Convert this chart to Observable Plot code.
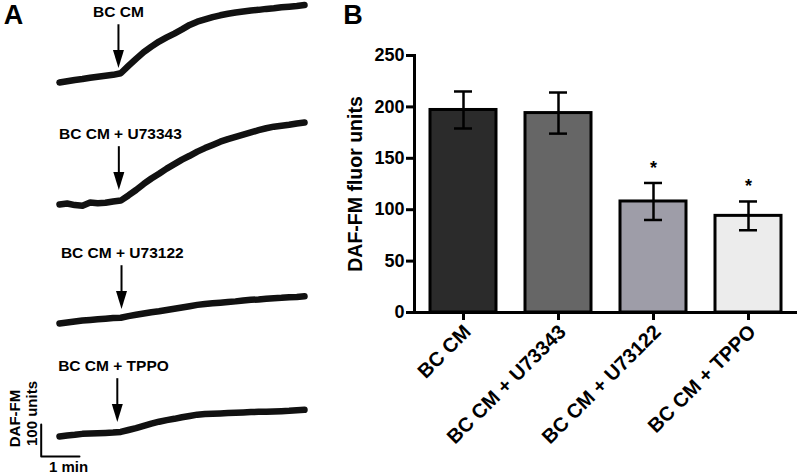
<!DOCTYPE html>
<html><head><meta charset="utf-8">
<script src="https://cdn.jsdelivr.net/npm/d3@7"></script>
<script src="https://cdn.jsdelivr.net/npm/@observablehq/plot@0.6"></script>
<style>
body{margin:0;background:#fff;}
#fig{position:relative;width:799px;height:474px;overflow:hidden;background:#fff;font-family:"Liberation Sans",Arial,Helvetica,sans-serif;}
#a{position:absolute;left:0;top:0;}
#b{position:absolute;left:330px;top:0;}
</style></head><body>
<div id="fig"><div id="a"></div><div id="b"></div></div>
<script>
// ---------- Panel A data (time in min, DAF-FM units above each trace's baseline) ----------
const times = [0,0.2,0.4,0.6,0.8,1.0,1.2,1.4,1.6,1.8,2.0,2.2,2.4,2.6,2.8,3.0,3.2,3.4,3.6,3.8,4.0,4.2,4.4,4.6,4.8,5.0,5.2,5.4,5.6,5.8,6.0,6.2,6.4];
const traceNames = ["BC CM", "BC CM + U73343", "BC CM + U73122", "BC CM + TPPO"];
const traceBCCM   = [0,4,8,11,15,18,21,24,29,52,74,95,112,128,141,153,166,180,190,197,204,210,215,219,222,225,227,230,232,235,237,239,242];
const traceU73343 = [0,3,-2,-4,6,4,5,9,12,28,45,64,81,96,112,126,140,152,165,176,186,196,204,211,218,225,232,238,243,246,249,253,256];
const traceU73122 = [0,3,6,9,11,13,15,17,18,23,27,31,35,38,42,46,50,54,58,61,63,65,67,69,72,74,75,77,79,80,82,83,85];
const traceTPPO   = [0,3,5,8,9,10,11,12,14,20,26,33,40,46,51,55,60,64,68,70,71,72,73,74,75,76,77,77,78,79,80,82,83];
const additionTimes = [1.54, 1.55, 1.62, 1.51];
const scaleBarMinutes = 1;
const scaleBarUnits = 100;

// ---------- Panel B data ----------
const barCategories = ["BC CM", "BC CM + U73343", "BC CM + U73122", "BC CM + TPPO"];
const barMeans = [197, 194, 108, 94];
const barSEM = [18, 20, 18, 14];
const barColors = ["#2b2b2b", "#666666", "#9e9da8", "#ececec"];
const barSignificance = ["", "", "*", "*"];
const yTicks = [0, 50, 100, 150, 200, 250];

// ---------- layout ----------
const FONT = '"Liberation Sans", Arial, Helvetica, sans-serif';
const rowBase = [1225, 844, 472, 119];      // vertical stacking of traces (units)
const labelCenters = [1.54, 1.59, 1.64, 1.41];
const traces = [traceBCCM, traceU73343, traceU73122, traceTPPO];

const traceRows = [];
traces.forEach((vals, i) => vals.forEach((v, j) => traceRows.push({trace: i, t: times[j], y: v + rowBase[i]})));
const arrows = traceNames.map((name, i) => ({
  name, t: additionTimes[i], lt: labelCenters[i],
  tip: rowBase[i] + 45, top: rowBase[i] + 182, ly: rowBase[i] + 219.5
}));
const sbX = -0.478, sbY = 56.25;
const scaleBar = [
  {t: sbX, y: sbY + scaleBarUnits},
  {t: sbX, y: sbY},
  {t: sbX + scaleBarMinutes, y: sbY}
];
const arrowHead = {draw(ctx) { ctx.moveTo(0, 0); ctx.lineTo(-5.5, -18); ctx.lineTo(5.5, -18); ctx.closePath(); }};

const plotA = Plot.plot({
  width: 330, height: 474,
  marginTop: 0, marginBottom: 0, marginLeft: 59, marginRight: 26,
  x: {domain: [0, 6.4], axis: null},
  y: {domain: [0, 1481.25], axis: null},
  style: {fontFamily: FONT, fontWeight: "bold", background: "white", overflow: "visible", color: "black"},
  marks: [
    Plot.line(traceRows, {x: "t", y: "y", z: "trace", stroke: "#111", strokeWidth: 6.5, strokeLinecap: "round", strokeLinejoin: "round"}),
    Plot.link(arrows, {x1: "t", x2: "t", y1: "top", y2: d => d.tip + 20, stroke: "black", strokeWidth: 2}),
    Plot.dot(arrows, {x: "t", y: "tip", symbol: arrowHead, fill: "black", stroke: "none"}),
    Plot.text(arrows, {x: "lt", y: "ly", text: "name", fontSize: 15.5, fontWeight: "bold", fill: "black"}),
    Plot.line(scaleBar, {x: "t", y: "y", stroke: "black", strokeWidth: 2}),
    Plot.text([`${scaleBarMinutes} min`], {x: 0.235, y: 21.9, fontSize: 15, fontWeight: "bold"}),
    Plot.text(["DAF-FM"], {x: -1.149, y: 175, rotate: -90, fontSize: 15, fontWeight: "bold"}),
    Plot.text([`${scaleBarUnits} units`], {x: -0.705, y: 190.6, rotate: -90, fontSize: 15, fontWeight: "bold"}),
    Plot.text(["A"], {x: -1.2, y: 1434, fontSize: 27, fontWeight: "bold"})
  ]
});
document.getElementById("a").append(plotA);

const bars = barCategories.map((cat, i) => ({cat, mean: barMeans[i], sem: barSEM[i], color: barColors[i], sig: barSignificance[i]}));

const plotB = Plot.plot({
  width: 469, height: 474,
  marginLeft: 84, marginRight: 2, marginTop: 55, marginBottom: 162,
  x: {domain: barCategories, paddingInner: 0.31, paddingOuter: 0.163},
  y: {domain: [0, 250]},
  color: {type: "identity"},
  style: {fontFamily: FONT, fontWeight: "bold", background: "white", overflow: "visible", color: "black"},
  marks: [
    Plot.barY(bars, {x: "cat", y: "mean", fill: "color", stroke: "black", strokeWidth: 3}),
    Plot.ruleX(bars, {x: "cat", y1: d => d.mean - d.sem, y2: d => d.mean + d.sem, stroke: "black", strokeWidth: 2.5}),
    Plot.tickY(bars, {x: "cat", y: d => d.mean + d.sem, insetLeft: 24, insetRight: 24, stroke: "black", strokeWidth: 2.5}),
    Plot.tickY(bars, {x: "cat", y: d => d.mean - d.sem, insetLeft: 24, insetRight: 24, stroke: "black", strokeWidth: 2.5}),
    Plot.text(bars, {x: "cat", y: d => d.mean + d.sem, text: "sig", dy: -15, fontSize: 18, fontWeight: "bold"}),
    Plot.ruleY([0], {stroke: "black", strokeWidth: 3}),
    Plot.frame({anchor: "left", stroke: "black", strokeWidth: 3}),
    Plot.axisY({ticks: yTicks, tickSize: 8, tickPadding: 2, fontSize: 18, strokeWidth: 3, label: null}),
    Plot.axisX({tickSize: 8, strokeWidth: 3, label: null, text: null}),
    Plot.axisX({tickSize: 0, tickRotate: -45, tickPadding: 14, dx: 4, dy: 2, fontSize: 20, label: null}),
    Plot.text(["DAF-FM fluor units"], {frameAnchor: "left", textAnchor: "middle", lineAnchor: "middle", rotate: -90, dx: -59, fontSize: 19.5, fontWeight: "bold"}),
    Plot.text(["B"], {frameAnchor: "top-left", textAnchor: "middle", lineAnchor: "middle", dx: -61.5, dy: -40, fontSize: 27, fontWeight: "bold"})
  ]
});
document.getElementById("b").append(plotB);
</script>
</body></html>
